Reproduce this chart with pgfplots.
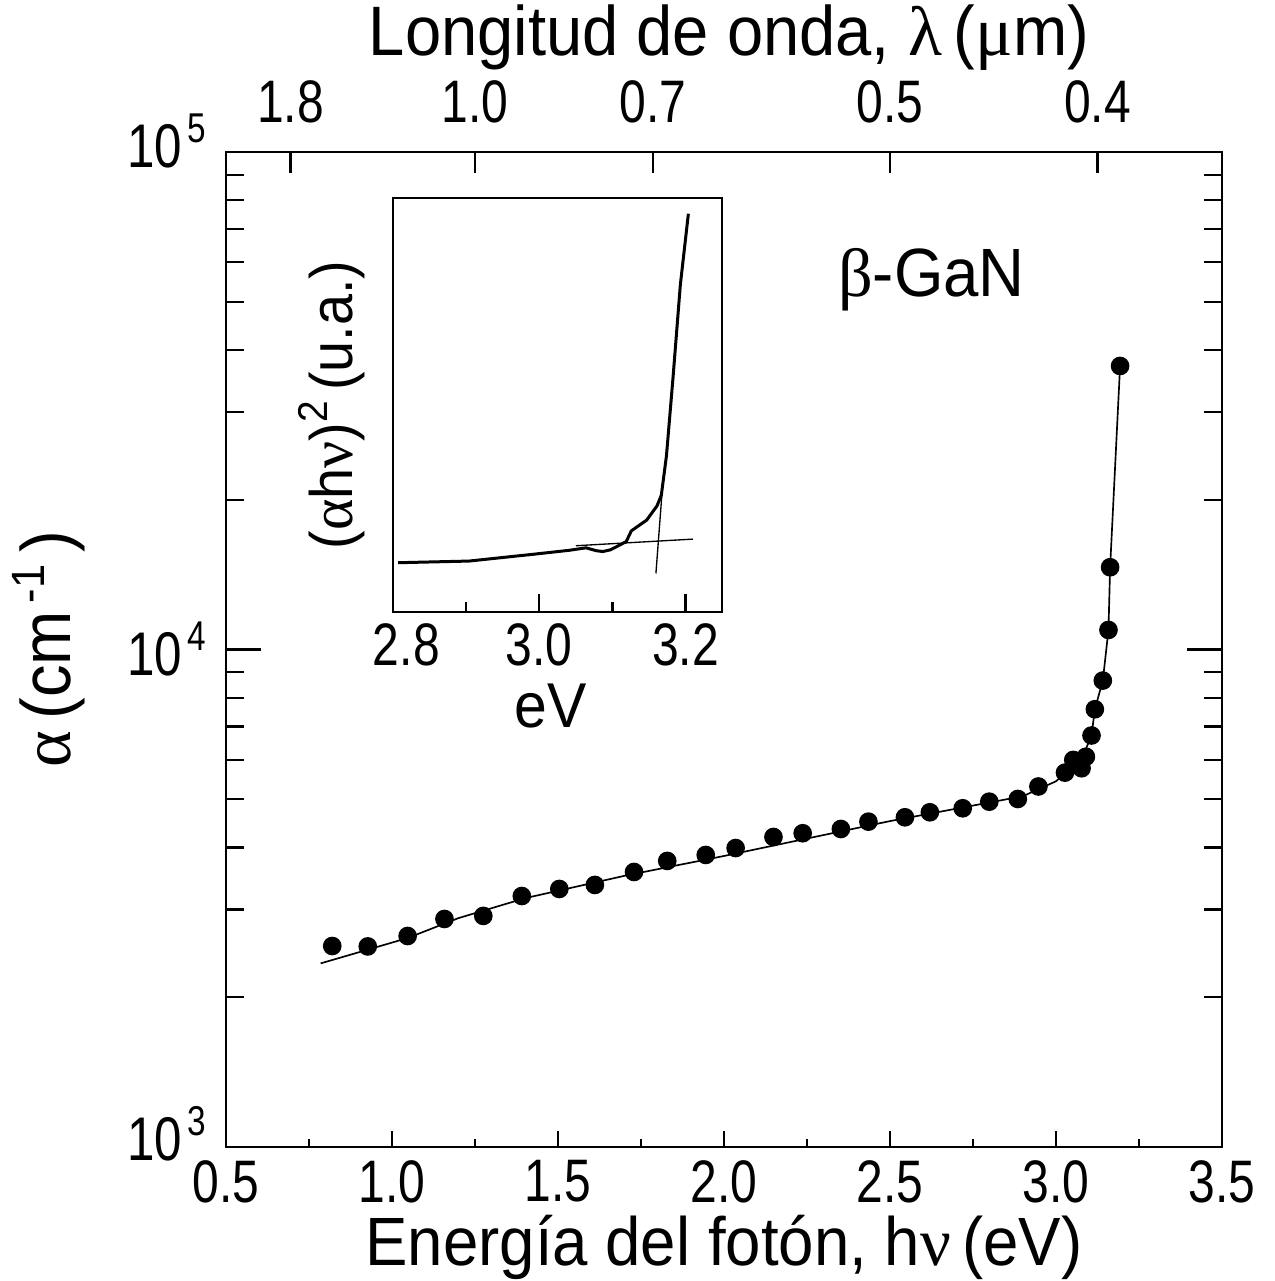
\documentclass[border=0pt]{standalone}
\usepackage{fontspec}
\setmainfont{Liberation Sans}[FakeStretch=0.93]
\newfontfamily\tk{Liberation Sans}[FakeStretch=0.8]
\newfontfamily\grk{Liberation Serif}
\usepackage{pgfplots}
\pgfplotsset{compat=1.18}
\newcommand{\sups}[1]{\raisebox{7.5pt}{\fontsize{12.5}{12.5}\selectfont #1}}
\newcommand{\tp}[1]{10\hspace{1.5pt}\sups{#1}}

\begin{document}
\begin{tikzpicture}
\pgfplotsset{
  common/.style={scale only axis, width=298.8pt, height=298.5pt,
    at={(0,0)}, anchor=south west, xmin=0.5, xmax=3.5,
    axis line style={line width=0.8pt}, tick style={line width=0.7pt, black},
    tick align=inside},
}
\path[use as bounding box] (-67.8pt,-40.2pt) rectangle (314.4pt,344.1pt);

% main data axis (bottom ticks)
\begin{axis}[common, ymode=log, ymin=1000, ymax=100000,
  xtick={0.5,1,1.5,2,2.5,3,3.5},
  xticklabels={0.5,1.0,1.5,2.0,2.5,3.0,3.5},
  minor xtick={0.75,1.25,1.75,2.25,2.75,3.25},
  xtick pos=bottom, ytick=\empty,
  major tick length=4.8pt, minor tick length=2.4pt,
  xticklabel style={font=\fontsize{18}{20}\selectfont\tk, yshift=-0.5pt},
  xlabel={Energía del fotón, h{\grk ν}\,(eV)},
  xlabel style={font=\fontsize{20.5}{24}\selectfont, at={(axis description cs:0.5,-0.1195)}, anchor=base},
  clip=false]
\addplot[black, line width=0.5pt] coordinates {
(0.785,2339) (1.047,2630) (1.2,2884) (1.4,3162) (1.7,3508) (2.0,3846)
(2.5,4519) (2.9,5070) (3.0,5433) (3.05,5821) (3.09,6310) (3.107,6716)
(3.117,7584) (3.141,8659) (3.158,10945) (3.163,14630) (3.193,37140)};
\addplot[only marks, mark=*, mark size=2.6pt, black] coordinates {
(0.820,2535) (0.927,2530) (1.047,2655) (1.158,2873) (1.275,2914)
(1.391,3195) (1.504,3301) (1.611,3363) (1.729,3571) (1.829,3758)
(1.945,3864) (2.035,3990) (2.149,4199) (2.237,4272) (2.352,4357)
(2.435,4507) (2.545,4599) (2.620,4707) (2.719,4795) (2.799,4944)
(2.885,5006) (2.947,5304) (3.027,5655) (3.052,5998) (3.077,5771)
(3.090,6087) (3.107,6716) (3.117,7584) (3.141,8659) (3.158,10945)
(3.163,14630) (3.193,37140)};
\node[font=\fontsize{20.5}{24}\selectfont] at (axis cs:2.625,55300) {{\grk β}-GaN};
\end{axis}

% y ticks axis
\begin{axis}[common, ymode=log, ymin=1000, ymax=100000,
  xtick=\empty, ytick={1000,10000,100000},
  yticklabels={\raisebox{8pt}{\tp{3}},\tp{4},\raisebox{7pt}{\tp{5}}},
  minor ytick={2000,3000,4000,5000,6000,7000,8000,9000,20000,30000,40000,50000,60000,70000,80000,90000},
  ytick pos=both, yticklabel pos=left,
  major tick length=10.5pt, minor tick length=5.4pt,
  yticklabel style={font=\fontsize{18.5}{20}\selectfont\tk, xshift=-2.5pt},
  ylabel={{\grk α}\,(cm\raisebox{8pt}{\fontsize{14}{14}\selectfont\,-1}\,)},
  ylabel style={font=\fontsize{21}{24}\selectfont, at={(axis description cs:-0.178,0.5)}, anchor=center}]
\end{axis}

% top wavelength axis
\begin{axis}[common, ymin=0, ymax=1,
  xtick={0.694,1.25,1.786,2.5,3.125},
  xticklabels={1.8,1.0,0.7,0.5,0.4},
  xtick pos=top, xticklabel pos=top, ytick=\empty,
  major tick length=6.3pt,
  xticklabel style={font=\fontsize{18}{20}\selectfont\tk, yshift=5pt},
  xlabel={Longitud de onda, {\grk λ}\,({\grk μ}m)},
  xlabel style={font=\fontsize{21}{24}\selectfont, at={(axis description cs:0.505,1.097)}, anchor=base}]
\end{axis}

% inset
\begin{axis}[scale only axis, width=98.7pt, height=124.2pt,
  at={(50.1pt,160.5pt)}, anchor=south west,
  xmin=2.8, xmax=3.25, ymin=0, ymax=1,
  axis line style={line width=0.8pt}, tick style={line width=0.7pt, black},
  tick align=inside,
  xtick={2.8,3.0,3.2}, minor xtick={2.9,3.1},
  xticklabels={\hphantom{0}2.8,3.0,3.2},
  xtick pos=bottom, ytick=\empty,
  major tick length=5.5pt, minor tick length=3pt,
  xticklabel style={font=\fontsize{18}{20}\selectfont\tk},
  xlabel={eV},
  xlabel style={font=\fontsize{19}{22}\selectfont, at={(axis description cs:0.48,-0.28)}, anchor=base},
  ylabel={({\grk α}h{\grk ν})\sups{2}\,(u.a.)},
  ylabel style={font=\fontsize{18}{22}\selectfont, at={(axis description cs:-0.185,0.5)}, anchor=center}]
\addplot[black, line width=0.9pt] coordinates {
(2.807,0.119) (2.904,0.123) (2.995,0.140) (3.041,0.149) (3.064,0.155)
(3.078,0.148) (3.087,0.146) (3.097,0.150) (3.105,0.157) (3.119,0.170)
(3.126,0.196) (3.147,0.222) (3.161,0.256) (3.167,0.282) (3.174,0.377)
(3.183,0.566) (3.193,0.790) (3.204,0.962)};
\addplot[black, line width=0.4pt] coordinates {(3.05,0.160) (3.21,0.176)};
\addplot[black, line width=0.4pt] coordinates {(3.1596,0.093) (3.1685,0.30)};
\end{axis}
\end{tikzpicture}
\end{document}
